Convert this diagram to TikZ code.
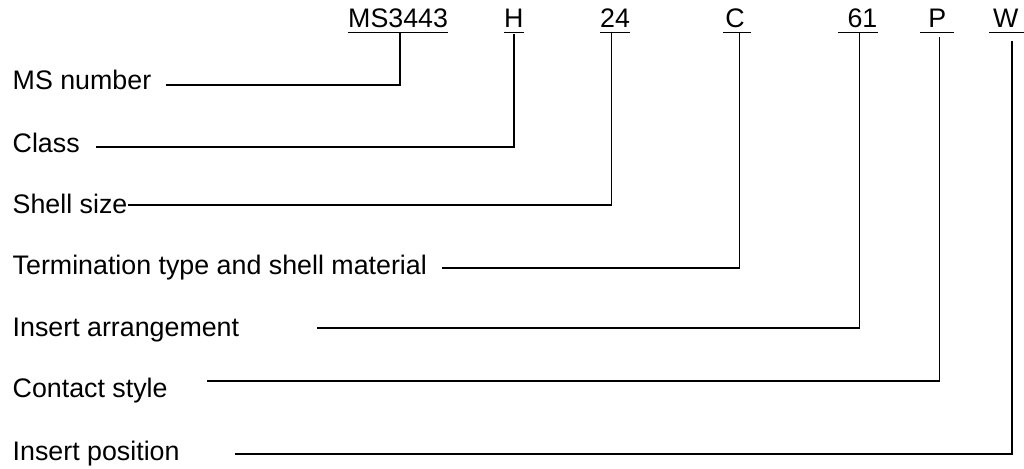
\documentclass[tikz,border=0pt]{standalone}
\usepackage{fontspec}
\setmainfont{Liberation Sans}
\newcommand\labfont{\fontsize{26.8}{30}\selectfont}
\begin{document}
\begin{tikzpicture}[x=1pt,y=-1pt,
  lbl/.style={anchor=base west, inner sep=0pt, font=\labfont},
  code/.style={anchor=base west, inner sep=0pt, text depth=4.5pt, font=\labfont},
  uline/.style={line width=1.4pt},
  conn/.style={line width=1.4pt}]
\useasboundingbox (0,0) rectangle (1024,468);
% part-number codes
\node[code] (c1) at (348,28) {MS3443};
\node[code] (c2) at (504,28) {H};
\node[code] (c3) at (600,28) {24};
\node[code] (c4) at (723,28) {\hspace*{0.08em}C\hspace*{0.22em}};
\node[code] (c5) at (838,28) {\hspace*{0.35em}61};
\node[code] (c6) at (920,28) {\hspace*{0.3em}P\hspace*{0.3em}};
\node[code] (c7) at (989,28) {\hspace*{0.15em}W\hspace*{0.3em}};
\foreach \c in {c1,c2,c3,c4,c5,c6,c7}
  \draw[uline] (\c.south west) -- (\c.south east);
% labels
\node[lbl] (l1) at (12.5,90) {MS number};
\node[lbl] (l2) at (12.5,152) {Class};
\node[lbl] (l3) at (12.5,213) {Shell size};
\node[lbl] (l4) at (12.5,274.5) {Termination type and shell material};
\node[lbl] (l5) at (12.5,336) {Insert arrangement};
\node[lbl] (l6) at (12.5,397) {Contact style};
\node[lbl] (l7) at (12.5,460) {Insert position};
% connectors
\draw[conn] ([xshift=2pt]c1.south) |- ([xshift=15pt,yshift=5pt]l1.base east);
\draw[conn] ([xshift=0pt,yshift=-1.5pt]c2.south) |- ([xshift=16pt,yshift=5pt]l2.base east);
\draw[conn] ([xshift=-3.7pt,yshift=1pt]c3.south) |- ([xshift=0pt,yshift=8pt]l3.base east);
\draw[conn] ([xshift=2.5pt]c4.south) |- ([xshift=15pt,yshift=6.5pt]l4.base east);
\draw[conn] ([xshift=1.7pt]c5.south) |- ([xshift=78pt,yshift=8pt]l5.base east);
\draw[conn] ([xshift=2.3pt,yshift=-4.5pt]c6.south) |- ([xshift=39pt,yshift=16pt]l6.base east);
\draw[conn] ([xshift=4pt,yshift=-8.5pt]c7.south) |- ([xshift=55pt,yshift=6pt]l7.base east);
\end{tikzpicture}
\end{document}
